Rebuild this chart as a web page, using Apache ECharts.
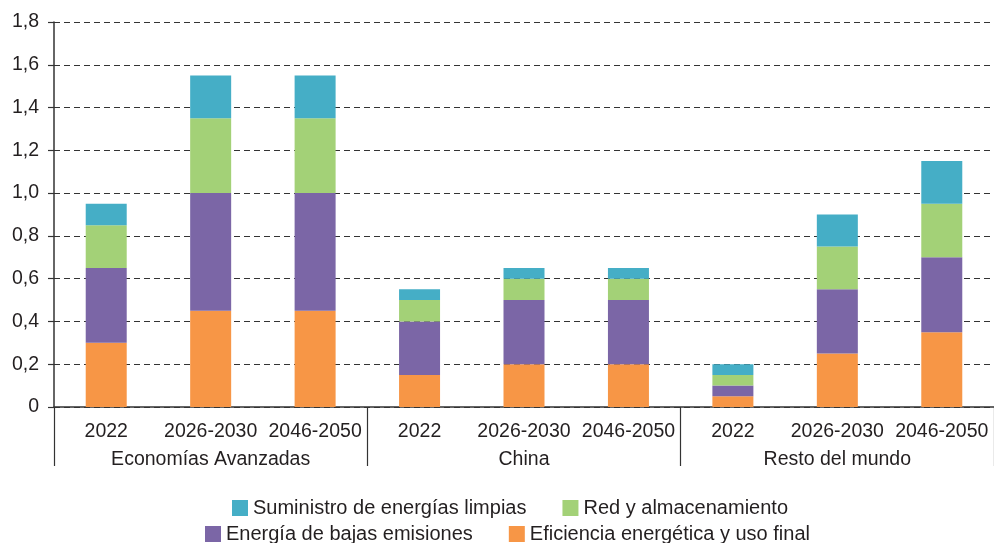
<!DOCTYPE html>
<html>
<head>
<meta charset="utf-8">
<script src="https://cdn.jsdelivr.net/npm/echarts@6/dist/echarts.min.js"></script>
<style>
html, body { margin: 0; padding: 0; background: #fff; }
#chart { width: 994px; height: 543px; }
</style>
</head>
<body>
<div id="chart"></div>
<script>
var periods = ['2022', '2026-2030', '2046-2050', '2022', '2026-2030', '2046-2050', '2022', '2026-2030', '2046-2050'];
var regions = ['Economías Avanzadas', 'China', 'Resto del mundo'];

// valores por segmento (apilados de abajo hacia arriba)
var eficiencia = [0.30, 0.45, 0.45, 0.15, 0.20, 0.20, 0.05, 0.25, 0.35];
var bajasEmisiones = [0.35, 0.55, 0.55, 0.25, 0.30, 0.30, 0.05, 0.30, 0.35];
var red = [0.20, 0.35, 0.35, 0.10, 0.10, 0.10, 0.05, 0.20, 0.25];
var suministro = [0.10, 0.20, 0.20, 0.05, 0.05, 0.05, 0.05, 0.15, 0.20];

var txt = '#231F20';
var font = 'Liberation Sans, Arial, sans-serif';

function bar(name, data, color) {
	return {
		name: name,
		type: 'bar',
		stack: 'total',
		data: data,
		barWidth: 41,
		itemStyle: { color: color },
		emphasis: { disabled: true }
	};
}

var legendText = { fontSize: 20, color: txt, fontFamily: font, lineHeight: 20 };

var option = {
	animation: false,
	textStyle: { fontFamily: font, color: txt },
	grid: { left: 54, right: -1, top: 22, bottom: 136 },
	legend: [
		{
			data: ['Suministro de energías limpias', 'Red y almacenamiento'],
			left: 232, top: 498, padding: 0,
			itemWidth: 16, itemHeight: 16, itemGap: 36,
			icon: 'rect', selectedMode: false,
			textStyle: legendText
		},
		{
			data: ['Energía de bajas emisiones', 'Eficiencia energética y uso final'],
			left: 205, top: 524, padding: 0,
			itemWidth: 16, itemHeight: 16, itemGap: 36,
			icon: 'rect', selectedMode: false,
			textStyle: legendText
		}
	],
	xAxis: [
		{
			type: 'category',
			data: periods,
			position: 'bottom',
			axisLine: { lineStyle: { color: '#333', width: 1.5 } },
			axisTick: { length: 7, lineStyle: { color: '#333', width: 1.5 } },
			axisLabel: { fontSize: 19.5, color: txt, margin: 15, interval: 0 }
		},
		{
			type: 'category',
			data: regions,
			position: 'bottom',
			offset: 0,
			axisLine: { show: true, lineStyle: { color: 'rgba(0,0,0,0)', width: 0 } },
			axisTick: { show: true, length: 59, lineStyle: { color: '#333', width: 1.2 } },
			axisLabel: { fontSize: 19.5, color: txt, margin: 43 },
			splitLine: { show: false }
		}
	],
	yAxis: {
		type: 'value',
		min: 0,
		max: 1.8,
		interval: 0.2,
		axisLine: { show: true, lineStyle: { color: '#333', width: 1.5 } },
		axisTick: { show: true, length: 6, lineStyle: { color: '#333', width: 1.2 } },
		axisLabel: {
			fontSize: 19.5, color: txt, margin: 15,
			formatter: function (v) { return v === 0 ? '0' : v.toFixed(1).replace('.', ','); }
		},
		splitLine: { lineStyle: { color: '#333', type: [6, 4], width: 1 } }
	},
	series: [
		bar('Eficiencia energética y uso final', eficiencia, '#F79646'),
		bar('Energía de bajas emisiones', bajasEmisiones, '#7B66A6'),
		bar('Red y almacenamiento', red, '#A3D177'),
		bar('Suministro de energías limpias', suministro, '#45AEC6')
	]
};

var chart = echarts.init(document.getElementById('chart'));
chart.setOption(option);
</script>
</body>
</html>
